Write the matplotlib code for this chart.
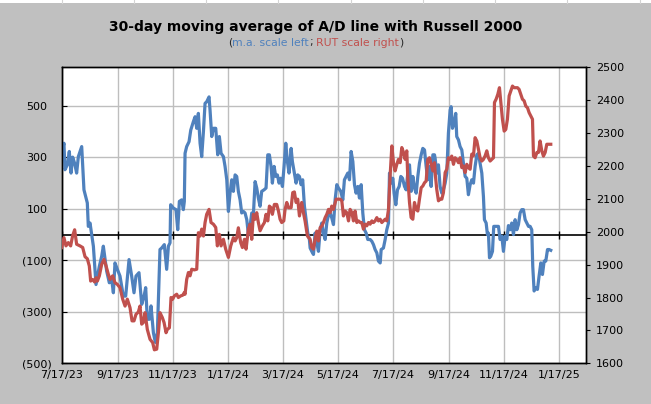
import matplotlib
matplotlib.use("Agg")
import matplotlib.pyplot as plt
import matplotlib.dates as mdates
import matplotlib.transforms as mtransforms
from matplotlib.ticker import FixedLocator, FuncFormatter
from matplotlib.patches import Rectangle
from matplotlib.lines import Line2D
import pandas as pd

# ---------------- data ----------------
START = "2023-07-17"
# 30-day moving average of A/D line (left axis): days since START, value
ad_days = [0, 2.5, 3.6, 6.2, 8.4, 10.3, 12.1, 14.3, 16.5, 18.4, 22.1, 24.6, 28.3, 29.4, 31.3,
           35, 37.9, 41.6, 44.2, 46, 49.7, 52.6, 55.2, 57.1, 58.9, 61.5, 64.4, 68.1, 70.7,
           74.4, 77.3, 79.9, 82.1, 85.4, 88.4, 91, 92.8, 94.6, 96.9, 98.7, 101.3, 103.5,
           105.7, 108.6, 110.5, 113.4, 116, 117.9, 119.7, 120.4, 123.4, 126.3, 128.2, 130,
           132.6, 134.4, 135.5,
           136.3, 138.1, 140.7, 142.6, 145.5, 147.4, 149.2, 151, 152.9, 154.7, 156.6, 158.4,
           160.2, 162.8, 163.9, 165.8, 167.6, 170.2, 172.4, 174.2, 176.1, 178.7, 180.5, 182.4,
           184.2, 186, 187.9, 189.7, 191.6, 193.4, 195.2, 197.1, 198.9, 200.8, 202.6, 204.5,
           206.3, 208.1, 210, 211.8, 213.7, 215.5, 217.3, 219.2, 221, 223.6, 225.8, 227.7,
           229.5, 231.3, 232.8, 234.7, 236.5, 238.3, 240.2, 242, 243.9, 245.7, 247.6, 249.4,
           251.2, 253.5, 254.9, 257.1, 259, 260.8, 262.7, 264.5, 266.3, 268.2, 270, 271.9, 273.7,
           274.5, 276.3, 278.2, 280, 281.9, 283.7, 285.6, 287.4, 289.2, 291.1, 292.9, 294.8,
           296.6, 298.4, 300.3, 302.1, 304, 305.8, 308.4, 310.6, 312.4, 314.3, 316.1, 318,
           319.8, 321.7, 323.5, 325.3, 327.2, 329, 330.9, 332.7, 334.5, 336.4, 338.2, 340.8,
           342.7, 344.5, 346.3, 348.2, 350, 351.9, 353, 355.5, 357.4, 359.2, 361.1, 362.2,
           364, 365.9, 367.3, 369.2, 371, 372.9, 374.7, 376.6, 378.8, 380.6, 382.4, 384.3,
           386.1, 388, 389.8, 391.7, 393.5, 395.3, 397.2, 399, 400.9, 402.7, 404.5, 406.4,
           408.2, 410.1, 411.9,
           412.6, 414.4, 416.3, 418.1, 420, 421.8, 423.7, 425.5, 427.3, 429.2, 430.3, 431.8,
           433.6, 435.4, 436.5, 438.4, 440.2, 442.1, 443.9, 445.8, 447.6, 449.4, 451.3, 453.1,
           455, 456.8, 458.7, 460.5, 462.3, 464.2, 466, 467.1, 469, 470.4, 471.5, 472.7, 474.1,
           476, 477.4, 478.9, 480.8, 482.6, 484.4, 486.3, 488.1, 490, 491.8, 493.6, 495.5,
           497.3, 499.2, 501, 502.9, 504.7, 506.5, 508.4, 510.2, 512.1, 513.9, 515.8, 517.6,
           519.4, 520.5, 522, 523.9, 525.7, 527.5, 529.4, 531.2, 533.1, 534.9, 536.8, 538.6,
           540.4]
ad_vals = [316, 355, 252, 271, 323, 239, 301, 277, 239, 303, 342, 174, 123, 32, 45,
           -45, -194, -123, -84, -45, -142, -187, -174, -226, -110, -135, -161, -239, -239,
           -97, -161, -226, -161, -148, -271, -239, -206, -329, -329, -277, -381, -419,
           -381, -58, -52, -39, -135, -45, -32, 116, 103, 97, 19, 129,
           135, 97, 129,
           316, 342, 361, 406, 439, 458, 413, 471, 355, 303, 400, 510,
           516, 535, 484, 381, 413, 413, 310, 381, 316, 303, 265, 213,
           90, 161, 213, 168, 232, 226, 168, 135, 84, 90, 84, 58,
           0, 32, 84, 77, 206, 181, 142, 110, 168, 174, 181, 310,
           310, 265, 200, 265, 226, 232, 200, 219, 187, 265, 355, 284,
           239, 335, 284, 239, 200, 232, 226, 194, 213, 110, 58, 6, -19,
           -52, -65, -77, 6, -32, -65, 19, 45, 6, -19, 45, 77,
           84, 65, 39, 135, 194, 181, 168, 135, 213, 226, 239, 213,
           323, 284, 194, 161, 187, 142, 194, 84, 19, 6, -19, -19,
           -26, -39, -58, -71, -103, -110, -58, -52, -19, 19, 45, 239,
           200, 219, 161, 116, 174, 187, 226, 219, 187, 174, 239, 271,
           168, 226, 181, 161, 226, 277, 310, 335, 329, 265, 213, 265,
           187, 310, 310,
           297, 239, 271, 187, 161, 174, 200, 239, 394, 484, 497, 413,
           432, 471, 381, 368, 342, 329, 277, 226, 219, 155, 194, 213,
           200, 265, 310, 316, 277, 239, 148, 58, 45, 0, 6, -90, -84,
           -65, 32, 32, 32, 32, -19, -6, -65, -6, -19, 35, 19,
           45, 0, 58, 19, 39, 84, 97, 97, 58, 45, 32, 32,
           19, -123, -219, -206, -213, -161, -110, -155, -103, -103, -58, -58,
           -61]

# Russell 2000 (right axis): days since START, value
rut_days = [0, 2.5, 4.7, 7.3, 9.9, 12.1, 14.3, 16.5, 20.2, 23.2, 25.8, 28.3, 30.5, 32, 34.2,
            36.4, 37.9, 39.4, 41.6, 44.2, 46.7, 49, 51.5, 53.4, 56.3, 58.9, 61.5, 64.4, 67.4,
            70, 72.5, 75.5, 77.7, 79.9, 82.1, 84.7, 86.5, 88.4, 90.2, 92.1, 94.6, 97.6, 100.5,
            102.4, 105, 107.2, 108.6, 111.2, 113.1, 115.3, 116.7, 119, 120.8, 122.6, 124.5,
            127.1, 128.9, 131.5, 133.7, 135.5,
            136.3, 138.1, 140, 141.8, 143.7, 146.6, 149.2, 151, 152.9, 154.7, 156.6, 158.4,
            160.2, 162.8, 165, 167.6, 170.2, 172, 174.2, 176.1, 178.7, 181.2, 184.2, 186.8,
            189.7, 191.6, 193.4, 195.2, 197.8, 199.7, 201.9, 203.7, 206.3, 208.1, 210, 211.8,
            213.7, 215.5, 217.3, 219.2, 221.8, 224, 225.8, 227.7, 229.5, 231.3, 232.8, 235,
            237.6, 239.5, 241.3, 243.1, 245.4, 246.8, 248.7, 250.5, 253.5, 255.3, 257.1, 259,
            260.8, 262.7, 265.2, 267.1, 268.9, 271.5,
            274.5, 276.3, 278.2, 280, 281.9, 283.7, 285.6, 287.4, 289.2, 291.1, 292.9, 294.8,
            296.6, 298.4, 300.3, 303.2, 305.1, 307.7, 309.5, 311.3, 313.2, 315, 316.9, 318.7,
            320.6, 322.4, 324.2, 326.1, 327.9, 329.8, 331.6, 333.4, 335.3, 337.1, 339, 340.8,
            342.7, 344.5, 346.3, 348.2, 350, 351.9, 353.7, 355.5, 357.4, 359.2, 361.1, 362.9,
            364.8, 366.6, 368.4, 370.3, 372.1, 374, 375.8, 377.7, 379.5, 381.3, 382.4, 384.3,
            386.1, 388, 389.8, 391.7, 393.5, 395.3, 397.2, 399, 400.9, 402.7, 404.5, 406.4,
            408.2, 410.1, 411.9,
            412.6, 414.4, 416.3, 418.1, 420, 421.8, 423.7, 425.5, 427.3, 429.2, 431, 432.9,
            434.7, 436.5, 438.4, 440.2, 442.1, 443.9, 445.8, 447.6, 449.4, 451.3, 453.1, 455,
            456.8, 458.7, 460.5, 462.3, 464.2, 466, 467.9, 469.7, 471.5, 473.4, 475.2, 477.1,
            478.2, 480, 481.9, 483.7, 485.2, 487, 488.9, 490.7, 492.5, 494.4, 496.2, 498.1,
            499.9, 501.8, 503.6, 505.4, 507.3, 509.1, 511, 512.8, 514.7, 516.5, 518.3, 520.2,
            521.3, 523.1, 525, 526.8, 528.6, 530.5, 532.3, 534.2, 536, 537.9, 540.4]
rut_vals = [1952, 1982, 1957, 1967, 1957, 1988, 2006, 1962, 1957, 1952, 1924, 1918, 1896, 1850, 1855,
            1847, 1860, 1850, 1866, 1901, 1916, 1896, 1871, 1855, 1866, 1845, 1840, 1830, 1795,
            1774, 1795, 1769, 1729, 1729, 1749, 1756, 1774, 1719, 1724, 1754, 1703, 1673, 1663,
            1641, 1643, 1703, 1754, 1739, 1724, 1693, 1703, 1708, 1800, 1795, 1805,
            1810, 1800, 1805, 1807, 1815,
            1810, 1855, 1876, 1866, 1886, 1884, 1886, 1997, 1987, 2008, 1987, 2028,
            2053, 2068, 2028, 2023, 2013, 1957, 1992, 1957, 1977, 1947, 1922, 1957,
            1982, 1972, 1982, 2012, 1967, 1952, 1977, 1947, 2008, 2023, 1977, 2053,
            2038, 2058, 2028, 2003, 2018, 2028, 2053, 2033, 2078, 2073, 2053, 2083,
            2083, 2063, 2038, 2028, 2033, 2068, 2089, 2073, 2073, 2119, 2121, 2089,
            2099, 2048, 2089, 2058, 2033, 1987,
            1977, 1952, 1947, 1977, 2002, 1972, 2013, 2017, 2028, 2043, 2053, 2068,
            2058, 2078, 2068, 2099, 2099, 2099, 2094, 2048, 2063, 2058, 2033, 2068,
            2058, 2033, 2063, 2028, 2033, 2028, 2028, 2008, 2023, 2018, 2028, 2023,
            2033, 2028, 2033, 2043, 2033, 2038, 2028, 2033, 2038, 2033, 2068, 2170,
            2261, 2210, 2185, 2205, 2220, 2210, 2256, 2241, 2220, 2246, 2165, 2089,
            2043, 2038, 2089, 2068, 2063, 2099, 2134, 2139, 2149, 2154, 2220, 2225,
            2205, 2185, 2210,
            2180, 2129, 2094, 2099, 2099, 2119, 2180, 2190, 2225, 2220, 2230, 2205,
            2225, 2220, 2210, 2225, 2195, 2200, 2180, 2205, 2195, 2190, 2236, 2231,
            2286, 2276, 2251, 2225, 2215, 2220, 2231, 2246, 2225, 2215, 2220, 2225,
            2393, 2403, 2418, 2438, 2393, 2342, 2306, 2311, 2342, 2413, 2428, 2443,
            2438, 2438, 2438, 2433, 2418, 2403, 2398, 2382, 2377, 2362, 2352, 2342,
            2230, 2225, 2241, 2241, 2276, 2246, 2230, 2241, 2266, 2266, 2266]

left_ticks = [-500, -300, -100, 100, 300, 500]
right_ticks = [1600, 1700, 1800, 1900, 2000, 2100, 2200, 2300, 2400, 2500]

TITLE = "30-day moving average of A/D line with Russell 2000"

# ---------------- style ----------------
BLUE = "#4F81BD"
RED = "#C0504D"
GRID = "#BEBEBE"
BG = "#C0C0C0"
W, H = 651, 404
plt.rcParams["font.family"] = ["DejaVu Sans"]

fig = plt.figure(figsize=(W / 100, H / 100), dpi=100, facecolor=BG)

# spreadsheet strip at top
fig.patches.append(Rectangle((0, 1 - 3 / H), 1, 3 / H, transform=fig.transFigure,
                             facecolor="white", edgecolor="none", zorder=0))
for cx in [62, 134, 206, 278, 351, 423, 495, 567, 640]:
    fig.lines.append(Line2D([cx / W, cx / W], [1 - 3 / H, 1], transform=fig.transFigure,
                            color="#D4D4D4", lw=0.8))

L, R, T, B = 61.7, 585.7, 67.3, 363.3
ax = fig.add_axes([L / W, 1 - B / H, (R - L) / W, (B - T) / H])
ax.set_facecolor("white")

start = pd.Timestamp(START)
ad_dates = start + pd.to_timedelta(ad_days, unit="D")
rut_dates = start + pd.to_timedelta(rut_days, unit="D")

ax.plot(ad_dates, ad_vals, color=BLUE, lw=2.3, solid_joinstyle="round", zorder=3)
ax.set_ylim(-500, 650)
ax.set_xlim(pd.Timestamp("2023-07-17"), pd.Timestamp("2025-02-15"))

loc = mdates.MonthLocator(bymonth=[1, 3, 5, 7, 9, 11], bymonthday=17)
fmt = FuncFormatter(lambda v, p: (lambda d: f"{d.month}/{d.day}/{d.year % 100:02d}")(mdates.num2date(v)))
ax.xaxis.set_major_locator(loc)
ax.xaxis.set_major_formatter(fmt)
ax.yaxis.set_major_locator(FixedLocator(left_ticks))
ax.yaxis.set_major_formatter(FuncFormatter(lambda v, p: f"({abs(int(v))})" if v < 0 else f"{int(v)}"))

ax.grid(True, color=GRID, lw=1.0)
ax.set_axisbelow(True)
ax.tick_params(axis="x", length=0, pad=5, labelsize=8, colors="black")
ax.tick_params(axis="y", direction="in", length=3.5, width=0.8, pad=7, labelsize=8, colors="black")
for s in ax.spines.values():
    s.set_color("black")
    s.set_linewidth(1.0)

# zero-crossing horizontal axis line with its tick marks
ax.axhline(0, color="black", lw=1.2, zorder=2)
xmin, xmax = ax.get_xlim()
tick_pos = [t for t in ax.get_xticks() if xmin <= t <= xmax]
ax.plot(tick_pos, [0] * len(tick_pos), ls="none", marker="|", ms=6, mew=1.0,
        color="black", zorder=2)

ax2 = ax.twinx()
ax2.plot(rut_dates, rut_vals, color=RED, lw=2.3, solid_joinstyle="round", zorder=3)
ax2.set_ylim(1600, 2500)
ax2.yaxis.set_major_locator(FixedLocator(right_ticks))
ax2.yaxis.set_major_formatter(FuncFormatter(lambda v, p: f"{int(v)}"))
ax2.tick_params(axis="y", direction="out", length=3.2, width=0.8, pad=4.3, labelsize=8, colors="black")
for s in ax2.spines.values():
    s.set_color("black")
    s.set_linewidth(1.0)

# titles
fig.text(315.5 / W, 1 - 27 / H, TITLE, ha="center", va="center", fontsize=10,
         fontweight="bold", color="black")

parts = [("(", "#262626"), ("m.a. scale left", BLUE), (";", "#262626"), (" ", None),
         ("RUT scale right", RED), (")", "#262626")]
sub_fs = 7.8
fig.canvas.draw()
rend = fig.canvas.get_renderer()

# positive left labels carry a trailing space in the original number format
shift = mtransforms.ScaledTranslation(-3.2 / 72, 0, fig.dpi_scale_trans)
for tick in ax.yaxis.get_major_ticks():
    if tick.get_loc() > 0:
        tick.label1.set_transform(tick.label1.get_transform() + shift)

def text_width(s):
    t = fig.text(0, 0, s, fontsize=sub_fs)
    w = t.get_window_extent(rend).width
    t.remove()
    return w

widths = []
for s, c in parts:
    if s == " ":
        widths.append(text_width("a a") - text_width("aa"))
    else:
        widths.append(text_width(s))
total = sum(widths)
x = 315.5 - total / 2
for (s, c), w in zip(parts, widths):
    if c is not None:
        fig.text(x / W, 1 - 42.5 / H, s, ha="left", va="center", fontsize=sub_fs, color=c)
    x += w

fig.savefig("out.png", dpi=100, facecolor=BG)
